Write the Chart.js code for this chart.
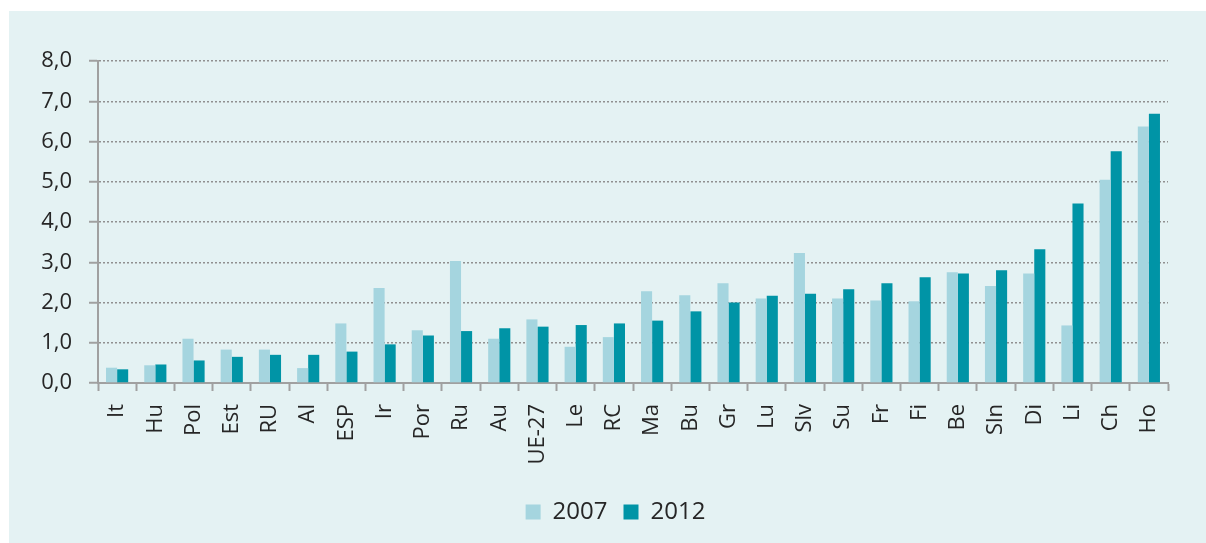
<!DOCTYPE html>
<html>
<head>
<meta charset="utf-8">
<script src="https://cdn.jsdelivr.net/npm/chart.js@4"></script>
<style>
  html, body { margin: 0; padding: 0; background: #ffffff; }
  #wrap {
    position: absolute; left: 9px; top: 11px;
    width: 1197px; height: 532px;
    background: #e4f2f3;
  }
</style>
</head>
<body>
<div id="wrap"><canvas id="chart" width="1197" height="532"></canvas></div>
<script>
const countries = ['It', 'Hu', 'Pol', 'Est', 'RU', 'Al', 'ESP', 'Ir', 'Por', 'Ru', 'Au', 'UE-27', 'Le', 'RC',
  'Ma', 'Bu', 'Gr', 'Lu', 'Slv', 'Su', 'Fr', 'Fi', 'Be', 'Sln', 'Di', 'Li', 'Ch', 'Ho'];

const values2007 = [0.38, 0.44, 1.10, 0.83, 0.83, 0.37, 1.48, 2.36, 1.31, 3.03, 1.10, 1.58, 0.90, 1.14,
  2.28, 2.18, 2.48, 2.10, 3.23, 2.10, 2.05, 2.03, 2.75, 2.41, 2.72, 1.43, 5.05, 6.37];

const values2012 = [0.34, 0.46, 0.56, 0.65, 0.70, 0.70, 0.78, 0.96, 1.18, 1.29, 1.36, 1.40, 1.44, 1.48,
  1.55, 1.78, 2.00, 2.17, 2.22, 2.33, 2.48, 2.63, 2.72, 2.80, 3.32, 4.46, 5.76, 6.69];

const yMin = 0;
const yMax = 8;
const yStep = 1;

const axisGray = '#a0a0a0';
const textColor = '#262626';
const fontFamily = "'Open Sans', 'Noto Sans', sans-serif";

// the legend sits a bit right of the canvas centre in the original
const legendShift = {
  id: 'legendShift',
  afterLayout(chart) {
    chart.legend.left += 27;
    chart.legend.right += 27;
  }
};

new Chart(document.getElementById('chart').getContext('2d'), {
  type: 'bar',
  data: {
    labels: countries,
    datasets: [
      {
        label: '2007',
        data: values2007,
        backgroundColor: '#a5d5df',
        categoryPercentage: 0.58,
        barPercentage: 1.0
      },
      {
        label: '2012',
        data: values2012,
        backgroundColor: '#0094a6',
        categoryPercentage: 0.58,
        barPercentage: 1.0
      }
    ]
  },
  options: {
    responsive: false,
    animation: false,
    layout: {
      padding: { top: 50, right: 38, bottom: 9, left: 0 }
    },
    plugins: {
      legend: {
        position: 'bottom',
        labels: {
          boxWidth: 15,
          boxHeight: 15,
          padding: 16,
          color: textColor,
          font: { family: fontFamily, size: 24 }
        }
      },
      tooltip: { enabled: false }
    },
    scales: {
      x: {
        grid: {
          offset: true,
          drawOnChartArea: false,
          drawTicks: true,
          tickLength: 8,
          tickWidth: 2,
          tickColor: axisGray
        },
        border: { color: axisGray, width: 2 },
        ticks: {
          color: textColor,
          font: { family: fontFamily, size: 22 },
          minRotation: 90,
          maxRotation: 90,
          padding: 13,
          autoSkip: false
        },
        afterFit(scale) { scale.height = 101; }
      },
      y: {
        min: yMin,
        max: yMax,
        grid: {
          color: '#909090',
          lineWidth: 1.5,
          tickLength: 9,
          tickWidth: 2,
          tickColor: axisGray,
          tickBorderDash: []
        },
        border: { color: axisGray, width: 2, dash: [2, 2] },
        ticks: {
          stepSize: yStep,
          color: textColor,
          padding: 17,
          font: { family: fontFamily, size: 22 },
          callback: v => v.toFixed(1).replace('.', ',')
        },
        afterFit(scale) { scale.width = 89; }
      }
    }
  },
  plugins: [legendShift]
});
</script>
</body>
</html>
